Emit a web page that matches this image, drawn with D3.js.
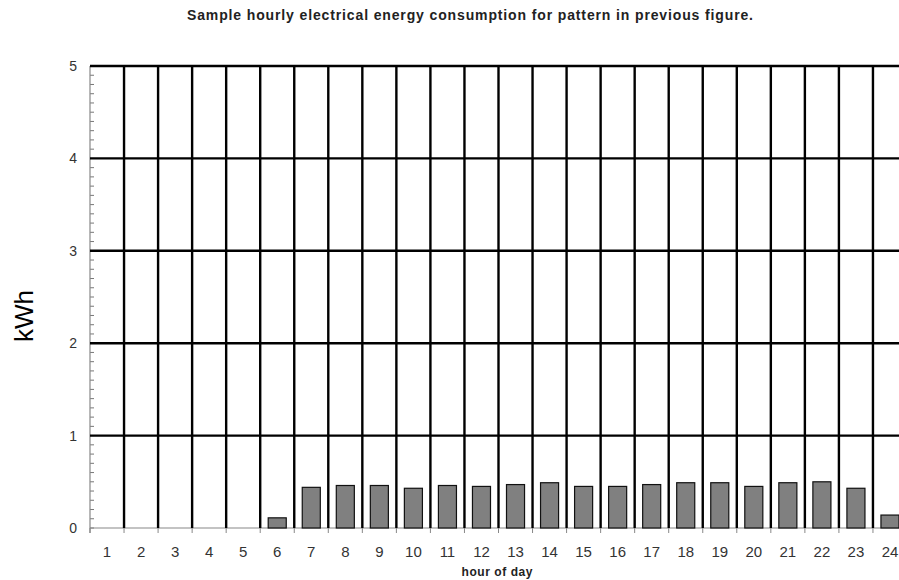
<!DOCTYPE html>
<html><head><meta charset="utf-8">
<script src="https://cdn.jsdelivr.net/npm/d3@7"></script>
<style>body{margin:0;background:#fff}svg{display:block}</style>
</head><body>
<svg id="c" width="899" height="580"></svg>
<script>
const hours = ["1","2","3","4","5","6","7","8","9","10","11","12","13","14","15","16","17","18","19","20","21","22","23","24"];
const kwh = [0,0,0,0,0,0.11,0.44,0.46,0.46,0.43,0.46,0.45,0.47,0.49,0.45,0.45,0.47,0.49,0.49,0.45,0.49,0.50,0.43,0.14];
const yTicks = [0,1,2,3,4,5];
const title = "Sample hourly electrical energy consumption for pattern in previous figure.";

const svg = d3.select("#c");
const L = 90, R = 907, T = 66, B = 528;
const x = d3.scaleBand().domain(hours).range([L, R]).paddingInner(0).paddingOuter(0);
const y = d3.scaleLinear().domain([0, 5]).range([B, T]);
const FONT = "Liberation Sans, Arial, sans-serif";

// minor ticks on y axis
const minor = d3.range(0, 5.0001, 0.1);
svg.append("g").selectAll("line").data(minor).join("line")
  .attr("x1", L).attr("x2", L + 4)
  .attr("y1", d => y(d)).attr("y2", d => y(d))
  .attr("stroke", "#777").attr("stroke-width", 1);

// baseline (0) thin gray
svg.append("line").attr("x1", L).attr("x2", 899).attr("y1", y(0)).attr("y2", y(0))
  .attr("stroke", "#888").attr("stroke-width", 1.2);
// left axis thin gray
svg.append("line").attr("x1", L).attr("x2", L).attr("y1", y(0) + 5).attr("y2", y(5))
  .attr("stroke", "#888").attr("stroke-width", 1.2);

// x tick marks at band boundaries
svg.append("g").selectAll("line").data(hours).join("line")
  .attr("x1", d => x(d)).attr("x2", d => x(d))
  .attr("y1", B).attr("y2", B + 5)
  .attr("stroke", "#888").attr("stroke-width", 1);

// bars
svg.append("g").selectAll("rect").data(hours).join("rect")
  .attr("x", d => x(d) + x.bandwidth() * 0.235)
  .attr("width", x.bandwidth() * 0.53)
  .attr("y", (d, i) => y(kwh[i]))
  .attr("height", (d, i) => y(0) - y(kwh[i]))
  .attr("fill", "#808080").attr("stroke", "#111").attr("stroke-width", 1.2);

// horizontal thick grid lines 1..5
svg.append("g").selectAll("line").data(yTicks.filter(d => d > 0)).join("line")
  .attr("x1", L).attr("x2", 899)
  .attr("y1", d => y(d)).attr("y2", d => y(d))
  .attr("stroke", "#000").attr("stroke-width", 2.4);

// vertical thick grid lines at band boundaries (between hours)
svg.append("g").selectAll("line").data(hours.slice(1)).join("line")
  .attr("x1", d => x(d)).attr("x2", d => x(d))
  .attr("y1", y(5)).attr("y2", y(0))
  .attr("stroke", "#000").attr("stroke-width", 2.4);

// y tick labels
svg.append("g").selectAll("text").data(yTicks).join("text")
  .attr("x", L - 13).attr("y", d => y(d) + 5)
  .attr("text-anchor", "end")
  .attr("font-family", FONT).attr("font-size", 14)
  .attr("fill", "#333").text(d => d);

// x tick labels
svg.append("g").selectAll("text").data(hours).join("text")
  .attr("x", d => x(d) + x.bandwidth() / 2).attr("y", 557)
  .attr("text-anchor", "middle")
  .attr("font-family", FONT).attr("font-size", 15)
  .attr("fill", "#333").text(d => d);

// title
svg.append("text").attr("x", 470).attr("y", 20).attr("text-anchor", "middle")
  .attr("font-family", FONT).attr("font-weight", "bold")
  .attr("font-size", 14).attr("fill", "#222")
  .attr("textLength", 566).attr("lengthAdjust", "spacing").text(title);

// x axis title
svg.append("text").attr("x", 497).attr("y", 576).attr("text-anchor", "middle")
  .attr("font-family", FONT).attr("font-weight", "bold")
  .attr("font-size", 12).attr("fill", "#222")
  .attr("textLength", 71).attr("lengthAdjust", "spacing").text("hour of day");

// y axis title
svg.append("text").attr("transform", "translate(33,316) rotate(-90)").attr("text-anchor", "middle")
  .attr("font-family", FONT)
  .attr("font-size", 26).attr("fill", "#000").text("kWh");
</script>
</body></html>
